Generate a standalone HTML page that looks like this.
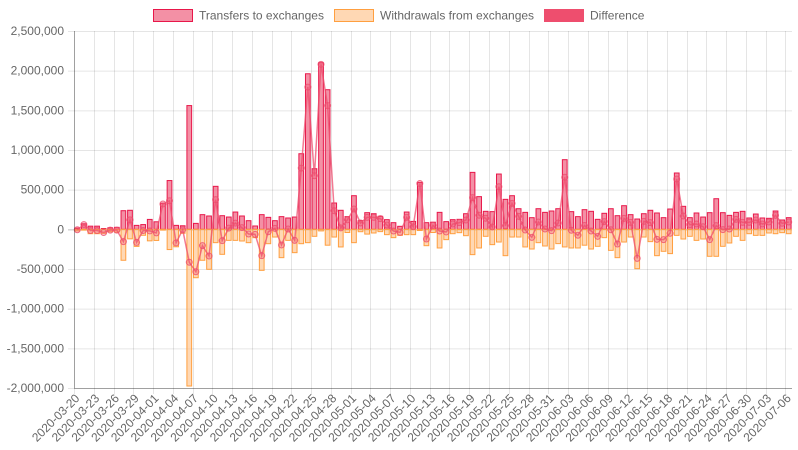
<!DOCTYPE html>
<html><head><meta charset="utf-8"><style>
body{margin:0;background:#fff;}
svg{display:block;font-family:"Liberation Sans",Arial,sans-serif;}
</style></head><body>
<svg id="chart" width="798" height="450" viewBox="0 0 798 450" xmlns="http://www.w3.org/2000/svg">
<g id="legend">
<g><rect x="153.5" y="9.5" width="39" height="12" fill="rgba(237,85,117,0.65)" stroke="#e8174a" stroke-width="1"/><text x="199" y="19.5" font-size="12" fill="#666">Transfers to exchanges</text></g>
<g><rect x="334.5" y="9.5" width="39" height="12" fill="rgba(255,190,130,0.6)" stroke="#ff9f40" stroke-width="1"/><text x="380" y="19.5" font-size="12" fill="#666">Withdrawals from exchanges</text></g>
<g><rect x="544.5" y="9.5" width="39" height="12" fill="#ee4e6e" stroke="#ee4e6e" stroke-width="1"/><text x="590" y="19.5" font-size="12" fill="#666">Difference</text></g>
</g>
<g id="grid"></g>
<g id="bars"></g>
<g id="line"></g>
<g id="axes"></g>
</svg>
<script>
const transfers = [15,70,40,40,10,20,25,235,240,50,60,125,95,330,615,50,45,1560,75,185,168,542,172,155,218,168,109,42,185,151,109,160,143,155,953,1961,764,2100,1760,332,240,160,424,110,210,197,164,122,84,38,218,100,592,84,90,214,97,122,126,197,718,412,227,223,697,378,424,260,214,147,260,214,231,260,878,223,160,248,227,126,202,260,172,298,185,130,197,240,206,147,256,710,290,147,206,155,210,386,210,176,214,227,143,193,143,139,231,118,147];
const withdrawals = [-20,-10,-55,-55,-50,-30,-35,-390,-120,-215,-75,-145,-140,-10,-255,-220,-50,-1975,-610,-390,-504,-168,-315,-139,-139,-147,-168,-105,-517,-181,-97,-357,-139,-294,-181,-168,-88,-20,-200,-97,-222,-40,-168,-30,-60,-46,-29,-67,-105,-76,-67,-67,-15,-206,-40,-235,-130,-55,-42,-80,-319,-235,-88,-193,-160,-332,-97,-97,-222,-248,-168,-210,-248,-180,-222,-235,-235,-200,-248,-214,-105,-265,-357,-160,-97,-496,-97,-155,-332,-277,-306,-76,-122,-88,-139,-122,-340,-340,-214,-172,-88,-139,-55,-76,-76,-46,-55,-42,-55];
const yTicks = [2500000,2000000,1500000,1000000,500000,0,-500000,-1000000,-1500000,-2000000];
const startDate = [2020,2,20];

const NS="http://www.w3.org/2000/svg";
const L=74,R=792,T=31,B=388,YMAX=2500000,YMIN=-2000000;
const n=transfers.length, step=(R-L)/n;
const y=v=>T+(YMAX-v)/(YMAX-YMIN)*(B-T);
const xc=i=>L+step*(i+0.5);
function mk(tag,attrs,parent){const e=document.createElementNS(NS,tag);for(const k in attrs)e.setAttribute(k,attrs[k]);parent.appendChild(e);return e;}
const grid=document.getElementById('grid'),bars=document.getElementById('bars'),line=document.getElementById('line'),axes=document.getElementById('axes');
function fmt(v){const s=Math.abs(v).toString().replace(/\B(?=(\d{3})+(?!\d))/g,',');return (v<0?'-':'')+s;}
yTicks.forEach(v=>{
  const g=mk('line',{x1:L-6,x2:R,y1:y(v)+0.5,y2:y(v)+0.5,stroke:v===0?'rgba(0,0,0,0.25)':'rgba(0,0,0,0.1)','stroke-width':1},grid);
  
  
  const t=mk('text',{x:L-10,y:y(v)+4,'text-anchor':'end','font-size':12,fill:'#666'},axes);
  t.textContent=fmt(v);
  
  
});
const d0=new Date(startDate[0],startDate[1],startDate[2]);
for(let i=0;i<n;i+=3){
  const gx=Math.round(L+step*i)+0.5;
  const gl=mk('line',{x1:gx,x2:gx,y1:T,y2:B+6,stroke:'rgba(0,0,0,0.1)','stroke-width':1},grid);
  
  
  const d=new Date(d0.getTime()+i*86400000);
  const lab=d.getFullYear()+'-'+String(d.getMonth()+1).padStart(2,'0')+'-'+String(d.getDate()).padStart(2,'0');
  const tx=xc(i)+3, ty=B+11;
  const t=mk('text',{x:tx,y:ty,'text-anchor':'end','font-size':12,fill:'#666',transform:`rotate(-45 ${tx} ${ty})`},axes);
  t.textContent=lab;
  
  
}
mk('line',{x1:L+0.5,x2:L+0.5,y1:T,y2:B,stroke:'rgba(0,0,0,0.3)'},axes);
mk('line',{x1:L,x2:R,y1:B+0.5,y2:B+0.5,stroke:'rgba(0,0,0,0.3)'},axes);
const bw=step*0.72;
for(let i=0;i<n;i++){
  const tv=transfers[i]*1000, wv=withdrawals[i]*1000;
  const r1=mk('rect',{x:xc(i)-bw/2,y:y(tv),width:bw,height:Math.max(0.5,y(0)-y(tv)),fill:'rgba(237,85,117,0.65)',stroke:'#e8174a','stroke-width':1},bars);
  
  
  const r2=mk('rect',{x:xc(i)-bw/2,y:y(0),width:bw,height:Math.max(0.5,y(wv)-y(0)),fill:'rgba(255,190,130,0.6)',stroke:'#ff9f40','stroke-width':1},bars);
  
  
}
let pts=[];
for(let i=0;i<n;i++){pts.push(xc(i).toFixed(1)+','+y((transfers[i]+withdrawals[i])*1000).toFixed(1));}
const pl=mk('polyline',{points:pts.join(' '),fill:'none',stroke:'rgba(238,78,110,0.75)','stroke-width':1.5},line);


for(let i=0;i<n;i++){
  const dv=(transfers[i]+withdrawals[i])*1000;
  const c=mk('circle',{cx:xc(i),cy:y(dv),r:3,fill:'rgba(238,78,110,0.3)',stroke:'rgba(238,78,110,0.8)','stroke-width':1},line);
  
  
}
</script>
</body></html>
